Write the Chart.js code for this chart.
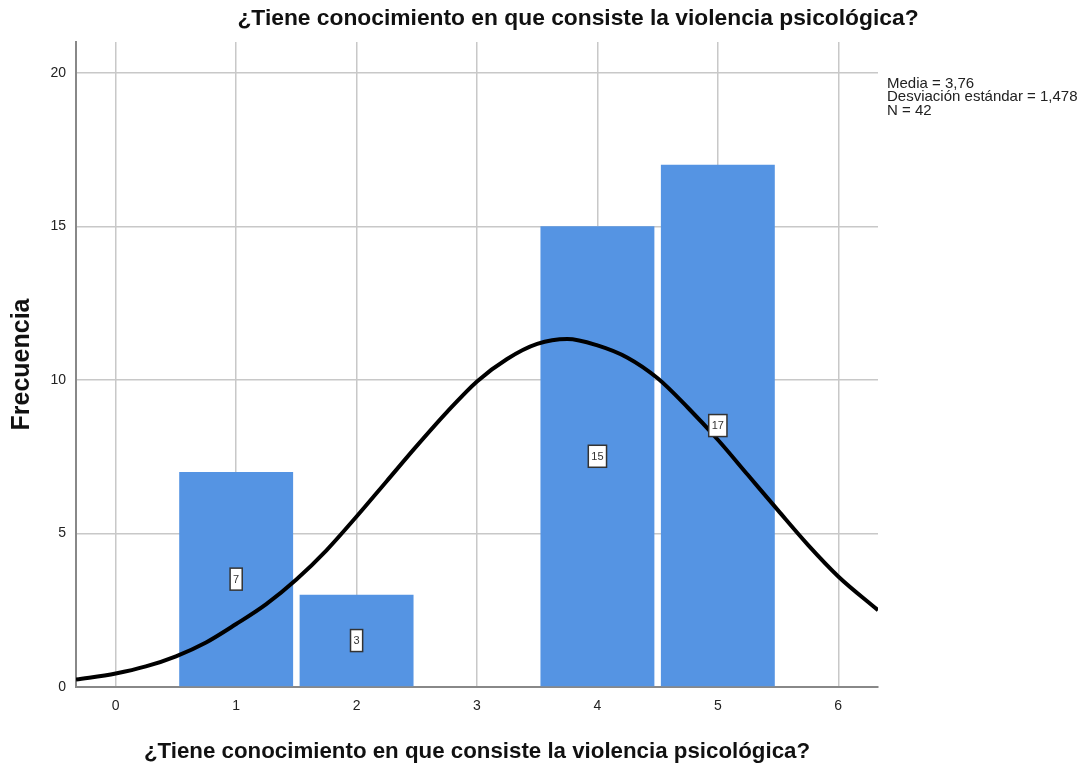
<!DOCTYPE html>
<html>
<head>
<meta charset="utf-8">
<title>Histograma</title>
<script src="https://cdn.jsdelivr.net/npm/chart.js@4.4.1/dist/chart.umd.min.js"></script>
<style>
    html, body { margin: 0; padding: 0; background: #fff; overflow: hidden; }
    #histChart { display: block; }
</style>
</head>
<body>
<canvas id="histChart" width="1088" height="770"></canvas>
<script>
// Frequencies per answer value
const categories = [1, 2, 4, 5];
const frequencies = [7, 3, 15, 17];

// Normal curve (x value, frequency)
const curveX = [-0.33, 0, 0.25, 0.5, 0.75, 1, 1.25, 1.5, 1.75, 2, 2.25, 2.5, 2.75, 3,
    3.25, 3.5, 3.75, 4, 4.25, 4.5, 4.75, 5, 5.25, 5.5, 5.75, 6, 6.33];
const curveY = [0.24, 0.44, 0.67, 1.0, 1.45, 2.05, 2.7, 3.5, 4.45, 5.55, 6.7, 7.85, 8.95, 9.95,
    10.68, 11.17, 11.33, 11.12, 10.72, 10.05, 9.1, 8.05, 6.9, 5.75, 4.62, 3.6, 2.5];

const xTicks = [0, 1, 2, 3, 4, 5, 6];
const yTicks = [0, 5, 10, 15, 20];

const titleText = '¿Tiene conocimiento en que consiste la violencia psicológica?';
const statsLines = ['Media = 3,76', 'Desviación estándar = 1,478', 'N = 42'];

const fontFamily = '"Liberation Sans", Arial, sans-serif';

// Title, stats text and the boxed bar labels
const extras = {
    id: 'extras',
    afterDatasetsDraw(chart) {
        const ctx = chart.ctx;
        const area = chart.chartArea;
        ctx.save();

        // boxed value labels in the middle of each bar
        const meta = chart.getDatasetMeta(1);
        ctx.font = '11px ' + fontFamily;
        ctx.textAlign = 'center';
        ctx.textBaseline = 'middle';
        meta.data.forEach((bar, i) => {
            const label = String(frequencies[i]);
            const cy = (bar.y + bar.base) / 2;
            const w = ctx.measureText(label).width + 6;
            const h = 22;
            ctx.fillStyle = '#ffffff';
            ctx.fillRect(bar.x - w / 2, cy - h / 2, w, h);
            ctx.strokeStyle = '#333333';
            ctx.lineWidth = 1.5;
            ctx.strokeRect(bar.x - w / 2, cy - h / 2, w, h);
            ctx.fillStyle = '#333333';
            ctx.fillText(label, bar.x, cy + 0.5);
        });

        // chart title
        ctx.font = 'bold 22.8px ' + fontFamily;
        ctx.fillStyle = '#111111';
        ctx.textAlign = 'center';
        ctx.fillText(titleText, 578, 19);

        // statistics block
        ctx.font = '15px ' + fontFamily;
        ctx.textAlign = 'left';
        ctx.textBaseline = 'middle';
        ctx.fillStyle = '#222222';
        statsLines.forEach((line, i) => {
            ctx.fillText(line, area.right + 9, 84 + i * 13.3);
        });
        ctx.restore();
    }
};

const ctx = document.getElementById('histChart').getContext('2d');
const histChart = new Chart(ctx, {
    data: {
        datasets: [
            {
                type: 'line',
                label: 'Normal',
                data: curveX.map((x, i) => ({ x: x, y: curveY[i] })),
                borderColor: '#000000',
                borderWidth: 4,
                pointRadius: 0,
                cubicInterpolationMode: 'monotone',
                fill: false,
                order: 0
            },
            {
                type: 'bar',
                label: 'Frecuencia',
                data: categories.map((c, i) => ({ x: c, y: frequencies[i] })),
                backgroundColor: '#5594E3',
                borderWidth: 0,
                barPercentage: 0.946,
                categoryPercentage: 1,
                grouped: false,
                order: 1
            }
        ]
    },
    plugins: [extras],
    options: {
        responsive: false,
        animation: false,
        layout: {
            padding: { top: 42, right: 210, bottom: 0, left: 0 }
        },
        plugins: {
            legend: { display: false },
            tooltip: { enabled: false }
        },
        scales: {
            x: {
                type: 'linear',
                min: -0.33,
                max: 6.33,
                offset: false,
                afterBuildTicks: scale => { scale.ticks = xTicks.map(v => ({ value: v })); },
                afterFit: scale => { scale.height = 83; },
                ticks: {
                    includeBounds: false,
                    padding: 11,
                    color: '#222222',
                    font: { size: 14, family: fontFamily }
                },
                grid: { color: '#c8c8c8', lineWidth: 1.5, drawTicks: false, offset: false },
                border: { display: true, color: '#888888', width: 2 },
                title: {
                    display: true,
                    text: titleText,
                    color: '#111111',
                    font: { size: 22.3, weight: 'bold', family: fontFamily },
                    padding: { top: 0, bottom: 5 }
                }
            },
            y: {
                type: 'linear',
                min: 0,
                max: 21,
                afterBuildTicks: scale => { scale.ticks = yTicks.map(v => ({ value: v })); },
                afterFit: scale => { scale.width = 76; },
                ticks: {
                    padding: 10,
                    color: '#222222',
                    font: { size: 14, family: fontFamily }
                },
                grid: { color: '#c8c8c8', lineWidth: 1.5, drawTicks: false },
                border: { display: true, color: '#888888', width: 2 },
                title: {
                    display: true,
                    text: 'Frecuencia',
                    color: '#111111',
                    font: { size: 25, weight: 'bold', family: fontFamily },
                    padding: { top: 7, bottom: 0 }
                }
            }
        }
    }
});
</script>
</body>
</html>
